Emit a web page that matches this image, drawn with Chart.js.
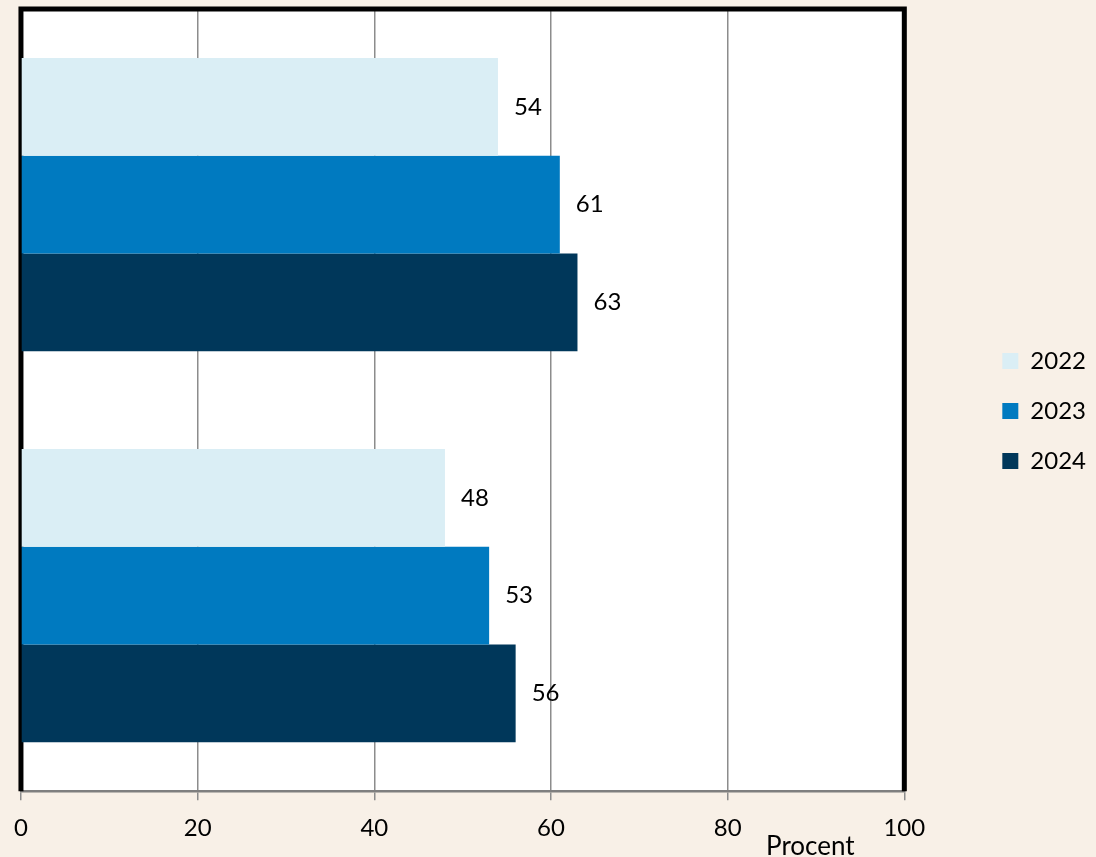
<!DOCTYPE html>
<html>
<head>
<meta charset="utf-8">
<script src="https://cdn.jsdelivr.net/npm/chart.js@4/dist/chart.umd.min.js"></script>
<style>
  html, body { margin: 0; padding: 0; background: #F8F0E7; }
  #wrap { width: 1096px; height: 857px; }
</style>
</head>
<body>
<div id="wrap"><canvas id="chart"></canvas></div>
<script>
const categories = ['', ''];
const years = ['2022', '2023', '2024'];
const values2022 = [54, 48];
const values2023 = [61, 53];
const values2024 = [63, 56];
const xTicks = [0, 20, 40, 60, 80, 100];
const axisTitle = 'Procent';

const colors = ['#DAEEF5', '#007AC0', '#00375A'];
const FONT = 'Lato, "Open Sans", sans-serif';

Chart.defaults.font.family = FONT;
Chart.defaults.color = '#000';

// white plot area + black frame on top/left/right
const plotFrame = {
    id: 'plotFrame',
    beforeDraw(chart) {
        const { ctx, chartArea: a } = chart;
        ctx.save();
        ctx.fillStyle = '#fff';
        ctx.fillRect(a.left, a.top, a.right - a.left, a.bottom - a.top);
        ctx.restore();
    },
    beforeDatasetsDraw(chart) {
        const { ctx, chartArea: a } = chart;
        ctx.save();
        ctx.strokeStyle = '#000';
        ctx.lineWidth = 5;
        ctx.lineJoin = 'miter';
        ctx.beginPath();
        ctx.moveTo(a.left, a.bottom);
        ctx.lineTo(a.left, a.top);
        ctx.lineTo(a.right, a.top);
        ctx.lineTo(a.right, a.bottom);
        ctx.stroke();
        ctx.restore();
    },
    afterDraw(chart) {
        const { ctx, chartArea: a } = chart;
        ctx.save();
        ctx.font = '26px ' + FONT;
        ctx.fillStyle = '#000';
        ctx.textAlign = 'center';
        ctx.textBaseline = 'middle';
        ctx.fillText(axisTitle, a.right - 94, a.bottom + 55);
        ctx.restore();
    }
};

// value labels to the right of each bar
const barValues = {
    id: 'barValues',
    afterDatasetsDraw(chart) {
        const { ctx } = chart;
        ctx.save();
        ctx.font = '24px ' + FONT;
        ctx.fillStyle = '#000';
        ctx.textAlign = 'left';
        ctx.textBaseline = 'middle';
        chart.data.datasets.forEach((ds, i) => {
            chart.getDatasetMeta(i).data.forEach((bar, j) => {
                ctx.fillText(ds.data[j], bar.x + 16, bar.y);
            });
        });
        ctx.restore();
    }
};

const ctx = document.getElementById('chart').getContext('2d');
const chart = new Chart(ctx, {
    type: 'bar',
    data: {
        labels: categories,
        datasets: [
            { label: years[0], data: values2022, backgroundColor: colors[0] },
            { label: years[1], data: values2023, backgroundColor: colors[1] },
            { label: years[2], data: values2024, backgroundColor: colors[2] },
        ]
    },
    options: {
        indexAxis: 'y',
        responsive: true,
        maintainAspectRatio: false,
        animation: false,
        layout: { padding: { left: 20, top: 9, right: 0, bottom: 0 } },
        datasets: {
            bar: { categoryPercentage: 0.75, barPercentage: 1.0, borderWidth: 0 }
        },
        scales: {
            x: {
                min: 0,
                max: 100,
                afterBuildTicks: (scale) => { scale.ticks = xTicks.map(v => ({ value: v })); },
                grid: { color: '#8c8c8c', lineWidth: 1.5, tickLength: 9, tickColor: '#8c8c8c' },
                border: { display: true, color: '#7f7f7f', width: 2.5 },
                ticks: { font: { size: 24 }, color: '#000', padding: 14, maxRotation: 0 }
            },
            y: {
                position: 'right',
                grid: { display: false },
                border: { display: false },
                ticks: { display: false },
                afterFit: (scale) => { scale.width = 72; }
            }
        },
        plugins: {
            legend: {
                position: 'right',
                fullSize: false,
                align: 'center',
                // empty title only nudges the items down a little
                title: { display: true, text: '', font: { size: 10 }, padding: { top: 5, bottom: 5 } },
                labels: {
                    boxWidth: 16,
                    boxHeight: 16,
                    padding: 26,
                    font: { size: 24 },
                    color: '#000'
                }
            },
            tooltip: { enabled: false }
        }
    },
    plugins: [plotFrame, barValues]
});
</script>
</body>
</html>
